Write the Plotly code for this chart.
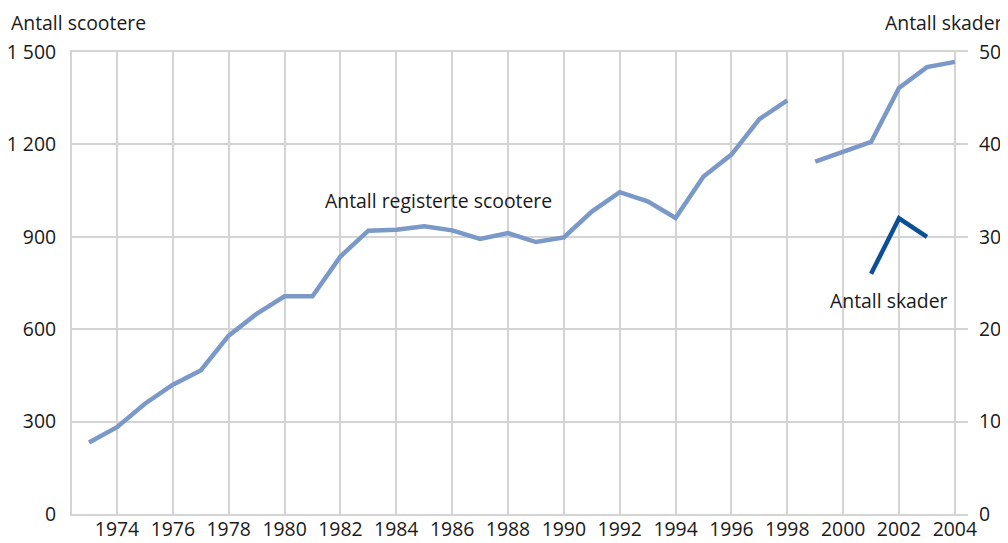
import plotly.graph_objects as go

# Antall registerte scootere (left axis); None marks the gap between 1998 and 1999
years_s = [1973, 1974, 1975, 1976, 1977, 1978, 1979, 1980, 1981, 1982, 1983, 1984, 1985, 1986,
           1987, 1988, 1989, 1990, 1991, 1992, 1993, 1994, 1995, 1996, 1997, 1998, 1998.5,
           1999, 2000, 2001, 2002, 2003, 2004]
scootere = [232, 282, 358, 420, 466, 579, 650, 707, 707, 836, 920, 923, 934, 921, 893, 912,
            883, 898, 982, 1045, 1015, 961, 1096, 1167, 1282, 1343, None, 1144, 1177, 1208,
            1383, 1451, 1468]
# Antall skader (right axis)
skader_years = [2001, 2002, 2003]
skader = [26, 32, 30]

left_tickvals = [0, 300, 600, 900, 1200, 1500]
left_ticktext = ["0", "300", "600", "900", "1 200", "1 500"]
right_tickvals = [0, 10, 20, 30, 40, 50]
x_tickvals = list(range(1974, 2005, 2))

font = "Open Sans"
fs = 19.4
light = "#7a98c8"
dark = "#0b4f94"
grid = "#d4d4d4"
txt = "#1a1a1a"

# page has an 8px body margin; target plot area in page coords: x 72..968, y 52..514
PL, PR, PT, PB = 72, 968, 52, 514
OFF = 8
W, H = 1008, 543

fig = go.Figure()
fig.add_trace(go.Scatter(x=years_s, y=scootere, mode="lines", connectgaps=False,
                         line=dict(color=light, width=4.5), showlegend=False))
fig.add_trace(go.Scatter(x=skader_years, y=skader, mode="lines", yaxis="y2",
                         line=dict(color=dark, width=4.5), showlegend=False))

pw = PR - PL
ph = PB - PT


def px(x):
    return (x - PL) / pw


def py(y):
    return (PB - y) / ph


fig.update_layout(
    width=W, height=H,
    margin=dict(l=PL - OFF, r=W - (PR - OFF), t=PT - OFF, b=H - (PB - OFF)),
    paper_bgcolor="white", plot_bgcolor="white",
    font=dict(family=font, size=fs, color=txt),
    xaxis=dict(range=[1972.39, 2004.47], tickvals=x_tickvals, automargin=False,
               showgrid=True, gridcolor=grid, gridwidth=2,
               showline=True, linecolor=grid, linewidth=2, mirror=True,
               ticks="", zeroline=False, ticklabelstandoff=-3),
    yaxis=dict(range=[0, 1500], tickvals=left_tickvals, ticktext=left_ticktext,
               automargin=False,
               showgrid=True, gridcolor=grid, gridwidth=2,
               showline=True, linecolor=grid, linewidth=2,
               ticks="", zeroline=False, ticklabelstandoff=10),
    yaxis2=dict(range=[0, 50], tickvals=right_tickvals, overlaying="y", side="right",
                automargin=False,
                showgrid=False, showline=False, ticks="", zeroline=False,
                ticklabelstandoff=10),
    annotations=[
        dict(text="Antall scootere", x=px(9), y=py(22), xref="paper", yref="paper",
             xanchor="left", yanchor="middle", showarrow=False),
        dict(text="Antall skader", x=px(1005), y=py(22), xref="paper", yref="paper",
             xanchor="right", yanchor="middle", showarrow=False),
        dict(text="Antall registerte scootere", x=1985.5, y=1017, xref="x", yref="y",
             showarrow=False),
        dict(text="Antall skader", x=2001.64, y=23.1, xref="x", yref="y2",
             showarrow=False),
    ],
)

fig.write_html("out.html")
